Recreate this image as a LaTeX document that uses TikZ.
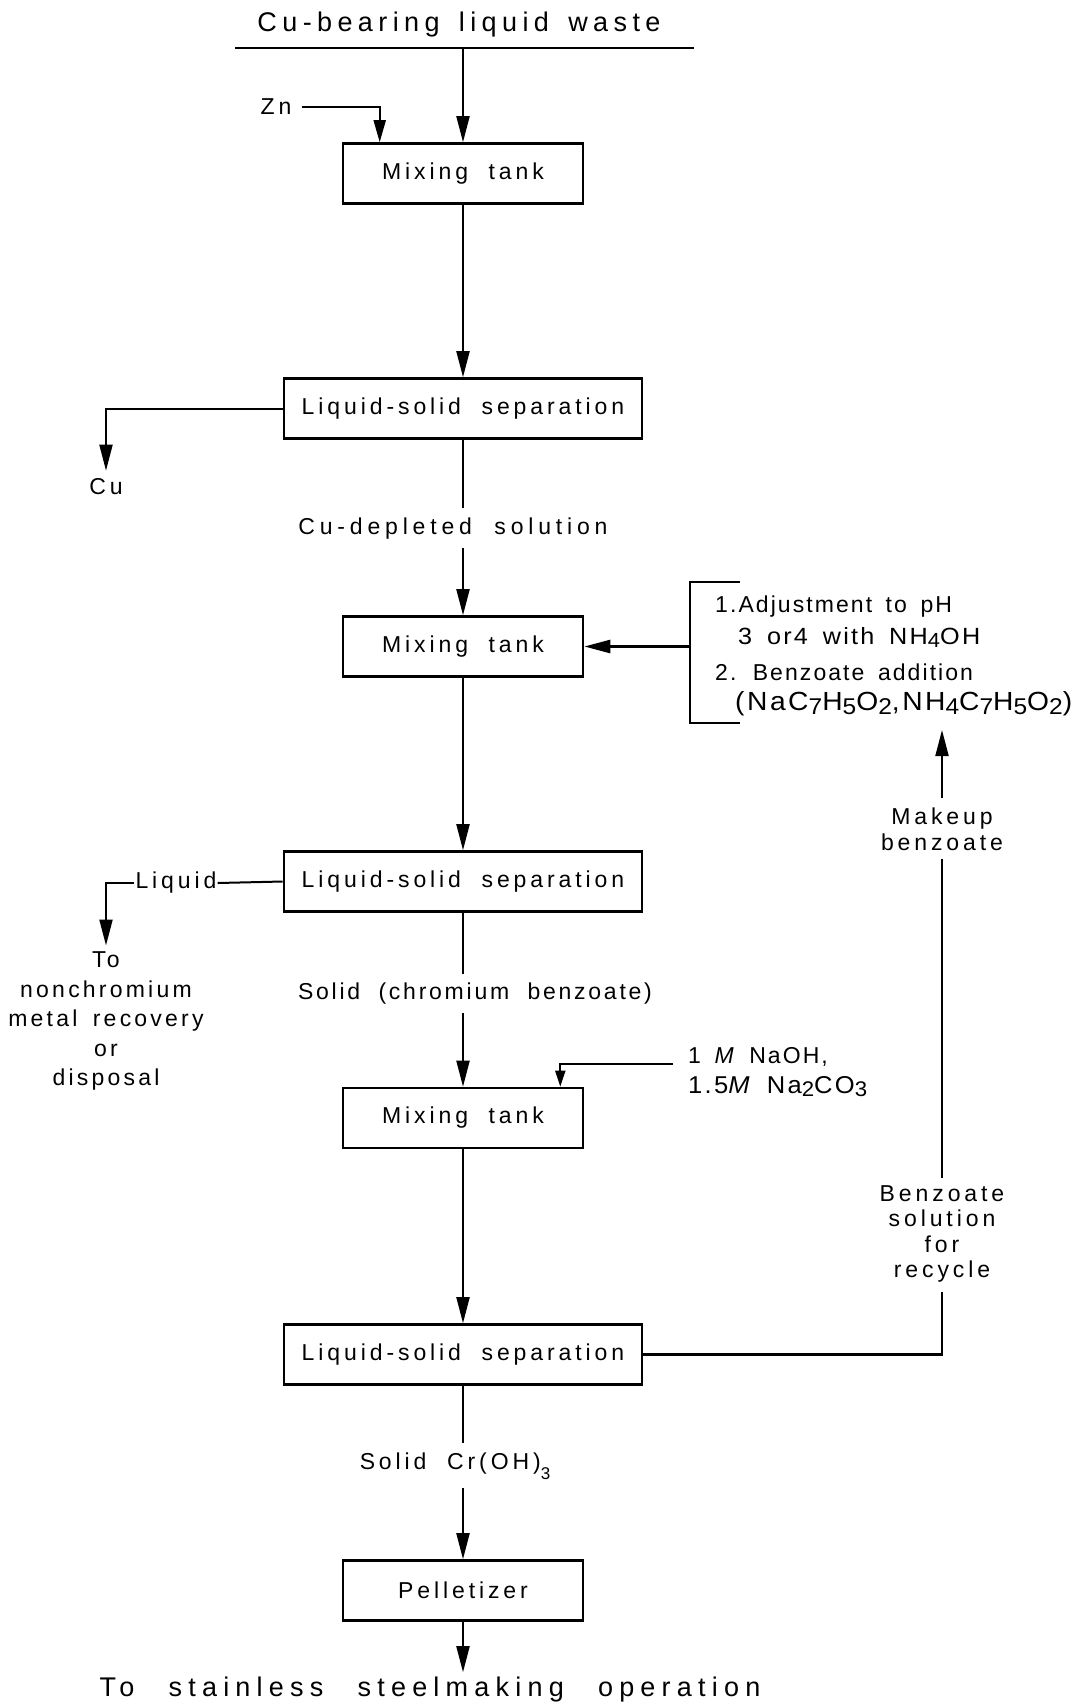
\documentclass[tikz,border=0pt]{standalone}
\usepackage{fontspec}
\usepackage{graphicx}
\setmainfont{Liberation Sans}[LetterSpace=17,WordSpace=2]
\newfontfamily\brfont{Liberation Sans}[LetterSpace=9,WordSpace=1.6]
\newfontfamily\bigfont{Liberation Sans}[LetterSpace=23,WordSpace=2.5]
\newfontfamily\titlefont{Liberation Sans}[LetterSpace=20,WordSpace=1.5]
\newfontfamily\narrowfont{Liberation Sans}[LetterSpace=12,WordSpace=2]
\newfontfamily\widefont{Liberation Sans}[LetterSpace=21,WordSpace=2]
\newfontfamily\sidefont{Liberation Sans}[LetterSpace=14,WordSpace=1.6]
\usetikzlibrary{arrows.meta}
\newcommand\bsub[1]{\raisebox{-0.16em}{\fontsize{20}{22}\selectfont #1}}
\begin{document}
\begin{tikzpicture}[x=1pt,y=-1pt,
  txt/.style={font=\fontsize{23}{28}\selectfont, inner sep=0pt, align=center},
  brtxt/.style={font=\brfont\fontsize{23}{28}\selectfont, inner sep=0pt, anchor=base west},
  box/.style={draw, line width=2.6pt, minimum width=240pt, minimum height=60pt, txt},
  wbox/.style={box, minimum width=358pt},
  flow/.style={line width=2pt},
  arr/.style={flow, -{Triangle[length=26pt,width=13pt]}},
  sarr/.style={flow, -{Triangle[length=16pt,width=10pt]}},
]
\fill[white] (0,0) rectangle (1082,1706);
\useasboundingbox (0,0) rectangle (1082,1706);

% title and feed
\node[txt, font=\titlefont\fontsize{27}{30}\selectfont] (title) at (459,25) {Cu-bearing liquid waste};
\coordinate (tl) at (235,48);
\coordinate (tr) at (694,48);
\coordinate (tm) at (463,48);
\draw[flow] (tl) -- (tr);
\node[box] (mt1) at (463,173.5) {Mixing tank};
\draw[arr] (tm) -- (mt1.north);
\node[txt] (zn) at (276,107) {Zn};
\draw[flow, -{Triangle[length=22pt,width=12pt]}] ([xshift=10pt]zn.east) -| ([xshift=38pt]mt1.north west);

% first separation
\node[wbox] (lss1) at (463,408.5) {Liquid-solid separation};
\draw[arr] (mt1.south) -- (lss1.north);
\node[txt] (cu) at (106,487) {Cu};
\draw[arr, shorten >=8pt] (lss1.west) -| (cu.north);
\node[txt, font=\widefont\fontsize{23}{28}\selectfont] (cud) at (453,529) {Cu-depleted solution};
\node[box] (mt2) at (463,646.5) {Mixing tank};
\draw[flow, shorten >=10pt] (lss1.south) -- (lss1.south |- cud.north);
\draw[arr, shorten <=8pt] (mt2.north |- cud.south) -- (mt2.north);

% bracket with reagents
\coordinate (bt) at (740,582);
\coordinate (btl) at (690,582);
\coordinate (bbl) at (690,723);
\coordinate (bb) at (740,723);
\draw[flow] (bt) -- (btl) -- (bbl) -- (bb);
\draw[arr, line width=2.6pt] (btl |- mt2.east) -- (mt2.east);
\node[brtxt] (b1) at (715,612) {1.Adjustment to pH};
\node[brtxt] (b2) at (738,644) {\resizebox{242pt}{17pt}{3 or\kern2pt 4 with NH\bsub{4}OH}};
\node[brtxt] (b3) at (715,680) {2. Benzoate addition};
\node[brtxt] (b4) at (735,710) {\resizebox{337pt}{19pt}{(NaC\bsub{7}H\bsub{5}O\bsub{2},NH\bsub{4}C\bsub{7}H\bsub{5}O\bsub{2})}};

% makeup and recycle
\node[txt, font=\fontsize{23}{26}\selectfont] (mk) at (942,829) {Makeup\\benzoate};
\coordinate (mktip) at (942,730);
\draw[arr, shorten <=9pt] (mk.north) -- (mktip);
\node[txt, font=\fontsize{23}{25.3}\selectfont] (rc) at (942,1234) {Benzoate\\solution\\for\\recycle};
\draw[flow, shorten <=8pt, shorten >=8pt] (mk.south) -- (rc.north);

% second separation
\node[wbox] (lss2) at (463,881.5) {Liquid-solid separation};
\draw[arr] (mt2.south) -- (lss2.north);
\node[txt, inner sep=1pt] (liq) at (176,883) {Liquid};
\draw[flow] (lss2.west) -- (liq.east);
\node[txt, font=\sidefont\fontsize{23}{29.5}\selectfont] (to) at (106,1021) {To\\nonchromium\\metal recovery\\or\\disposal};
\draw[arr, shorten >=6pt] (liq.west) -| (to.north);
\node[txt, font=\narrowfont\fontsize{23}{28}\selectfont] (sol) at (475,994) {Solid (chromium benzoate)};
\node[box] (mt3) at (463,1118) {Mixing tank};
\draw[flow, shorten >=9pt] (lss2.south) -- (lss2.south |- sol.north);
\draw[arr, shorten <=8pt] (mt3.north |- sol.south) -- (mt3.north);

% caustic feed
\node[brtxt] (na1) at (688,1063) {1 \textit{M} NaOH,};
\node[brtxt] (na2) at (688,1093) {\resizebox{179pt}{17pt}{1.5\textit{M} Na\bsub{2}CO\bsub{3}}};
\coordinate (nain) at (673,1064);
\draw[sarr] (nain) -| ([xshift=-24pt]mt3.north east);

% third separation
\node[wbox] (lss3) at (463,1354.5) {Liquid-solid separation};
\draw[arr] (mt3.south) -- (lss3.north);
\draw[flow, line width=2.8pt, shorten >=10pt] (lss3.east) -| (rc.south);
\node[txt] (cr) at (455,1466) {Solid Cr(OH)\raisebox{-0.45em}{\fontsize{17}{18}\selectfont 3}};
\node[box] (pel) at (463,1590.5) {Pelletizer};
\draw[flow, shorten >=9pt] (lss3.south) -- (lss3.south |- cr.north);
\draw[arr, shorten <=8pt] (pel.north |- cr.south) -- (pel.north);
\node[txt, font=\bigfont\fontsize{27}{30}\selectfont] (bot) at (430,1689) {To stainless steelmaking operation};
\draw[arr, shorten >=4pt] (pel.south) -- (pel.south |- bot.north);
\end{tikzpicture}
\end{document}
